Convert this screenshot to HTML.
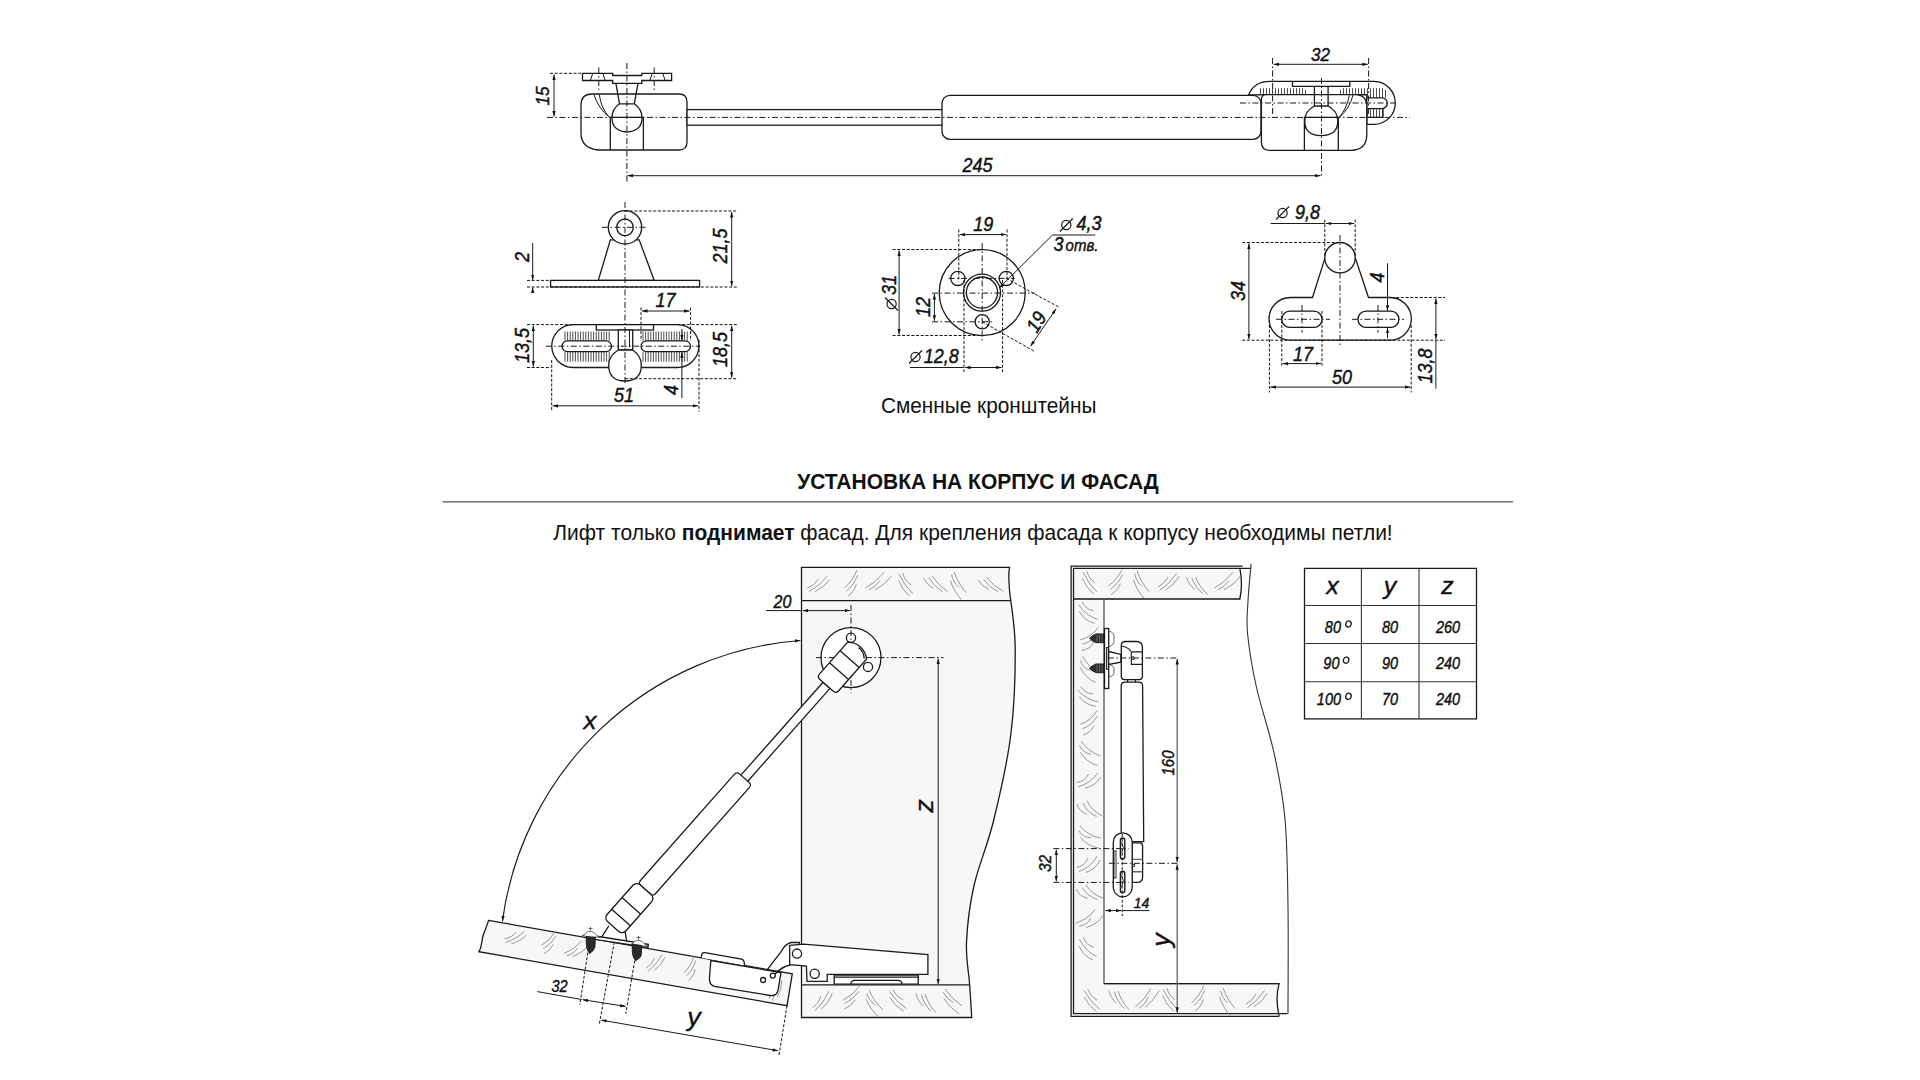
<!DOCTYPE html>
<html><head><meta charset="utf-8"><title>Газовый лифт</title>
<style>
html,body{margin:0;padding:0;background:#fff;width:1920px;height:1080px;overflow:hidden}
svg{display:block;position:absolute;left:0;top:0}
.o{fill:none;stroke:#1a1a1a;stroke-width:1.3}
.w{fill:#fff;stroke:#1a1a1a;stroke-width:1.3}
.g{fill:#f7f7f7;stroke:#1a1a1a;stroke-width:1.3}
.t{fill:none;stroke:#1a1a1a;stroke-width:1}
.d{fill:none;stroke:#151515;stroke-width:1;stroke-dasharray:3 1.7}
.dd{fill:none;stroke:#1a1a1a;stroke-width:1;stroke-dasharray:6 2.5 1.5 2.5}
.gr{fill:none;stroke:#8c8c8c;stroke-width:0.9}
.rb{fill:none;stroke:#3a3a3a;stroke-width:0.9}
text{font-family:"Liberation Sans",sans-serif;fill:#111}
.it{font-style:italic;stroke:#111;stroke-width:0.4}
</style></head><body>
<svg width="1920" height="1080" viewBox="0 0 1920 1080">
<defs>
<marker id="ar" viewBox="0 0 10 6" refX="10" refY="3" markerWidth="5.5" markerHeight="4.6" markerUnits="userSpaceOnUse" orient="auto-start-reverse"><path d="M0,0 L10,3 L0,6 Z" fill="#111"/></marker>
</defs>
<g id="top">
<!-- left mount plate + stem -->
<path class="w" d="M582.5,73.3 H612.7 V75.5 H641.8 V73.3 H671.6 V80.5 H641.8 V83.3 H612.7 V80.5 H582.5 Z"/>
<path class="t" d="M590.5,80 L592.5,74 M603,74 L605,80 M650,80 L652,74 M663,74 L665,80"/>
<!-- left block -->
<path class="w" d="M592,94 H679 Q687,94 687,102 V142 Q687,150 679,150 H598 Q581,148 581,133 V105 Q581,94 592,94 Z"/>
<path class="t" d="M593.9,94.3 Q598,108 609.4,117.4 M599.3,94.7 Q601,108 609.4,117.4"/>
<path class="o" d="M615.9,83.3 L619.5,103.8 M638,83.3 L634.3,103.8"/>
<path class="w" d="M619.5,103.8 H634.3 Q642,109 642,118 Q642,131 627,132 Q612,131 612,118 Q612,109 619.5,103.8 Z"/>
<path class="o" d="M610.3,150 V117.4 H643.4 V150"/>
<!-- rod -->
<rect class="w" x="687" y="109.6" width="256" height="15.6"/>
<!-- cylinder -->
<rect class="w" x="942" y="95.3" width="319" height="44.1" rx="8"/>
<!-- right bracket -->
<path class="w" d="M1248.7,94.8 Q1254,81.4 1270,81.4 H1373.8 A21.5,21.5 0 0 1 1373.8,124.4 H1366.8 V94.6 Z"/>
<path class="o" d="M1292.5,81.4 V86.4 H1349.8 V81.4"/>
<path class="w" d="M1366.8,97.9 H1382 A5.35,5.35 0 0 1 1382,108.6 H1366.8 Z"/>
<path class="rb" transform="translate(0.5,0)" d="M1260,88.2 V94.6 M1263,88.2 V94.6 M1266,88.2 V94.6 M1269,88.2 V94.6 M1272,88.2 V94.6 M1275,88.2 V94.6 M1278,88.2 V94.6 M1281,88.2 V94.6 M1284,88.2 V94.6 M1287,88.2 V94.6 M1290,88.2 V94.6 M1293,88.2 V94.6 M1296,88.2 V94.6 M1299,88.2 V94.6 M1302,88.2 V94.6 M1305,90 V94.6 M1340,90 V94.6 M1343,88.2 V94.6 M1346,88.2 V94.6 M1349,88.2 V94.6 M1352,88.2 V94.6 M1355,88.2 V94.6 M1358,88.2 V94.6 M1361,88.2 V94.6 M1364,88.2 V94.6 M1367,88.2 V97.9 M1370,88.2 V97.9 M1373,88.2 V97.9 M1376,88.2 V97.9 M1379,88.2 V97.9 M1382,88.2 V97.9 M1385,90 V97.9 M1367,108.6 V117.4 M1370,108.6 V117.4 M1373,108.6 V117.4 M1376,108.6 V117.4 M1379,108.6 V117.4 M1382,108.6 V117.4"/>
<path class="o" d="M1366.8,117.4 H1383 V108.6"/>
<!-- right block -->
<path class="w" d="M1266.4,94.6 H1354.8 Q1366.8,94.6 1366.8,106.6 V134.3 Q1366.8,150.3 1350.8,150.3 H1269.4 Q1261.4,150.3 1261.4,142.3 V99.6 Q1261.4,94.6 1266.4,94.6 Z"/>
<path class="t" d="M1353,94.8 Q1350,108 1339.3,117.4 M1349.5,94.8 Q1347,108 1339.3,117.4"/>
<path class="o" d="M1314.4,86.4 V106 M1328.1,86.4 V106"/>
<path class="w" d="M1314.4,106 H1328.1 Q1337.8,111 1337.8,121 Q1337.8,135.6 1321.2,135.6 Q1304.7,135.6 1304.7,121 Q1304.7,111 1314.4,106 Z"/>
<path class="o" d="M1304.4,150.3 V117.4 H1338.3 V150.3"/>
<!-- center lines -->
<path class="dd" d="M547,117.4 H1410"/>
<path class="dd" d="M1240,103 H1395"/>
<path class="dd" d="M626.9,63 V182"/>
<path class="dd" d="M598.8,67.5 V90.2 M654.2,67.5 V90.2"/>
<path class="dd" d="M1321.5,78 V178"/>
<path class="dd" d="M1272.6,58 V115.2 M1368.6,58 V115.2"/>
<path class="d" d="M550,73.3 H582"/>
<!-- dims -->
<path class="t" d="M554,74.5 V116.5" marker-start="url(#ar)" marker-end="url(#ar)"/>
<path class="t" d="M627.5,175.7 H1320.5" marker-start="url(#ar)" marker-end="url(#ar)"/>
<path class="t" d="M1273.5,64.3 H1367.8" marker-start="url(#ar)" marker-end="url(#ar)"/>
<text class="it" font-size="17" transform="translate(549,96) rotate(-90) scale(1,1.1)" text-anchor="middle">15</text>
<text class="it" font-size="18"   text-anchor="middle" transform="translate(977.5,172.3) scale(1,1.1)">245</text>
<text class="it" font-size="17"   text-anchor="middle" transform="translate(1320.5,60.7) scale(1,1.1)">32</text>
</g>

<g id="midleft">
<!-- top view bracket -->
<path class="w" d="M610.4,239.8 L598.3,280.4 H654.2 L639.2,239.8 Z"/>
<circle class="w" cx="625" cy="227.3" r="16.7"/>
<circle class="o" cx="625" cy="227.3" r="8.3"/>
<rect class="w" x="550.6" y="280.4" width="149" height="6.6"/>
<path class="dd" d="M602,227.3 H648"/>
<path class="d" d="M625,211 H737.5 M527,287 H737.5 M527,280.4 H550"/>
<path class="t" d="M731.7,212 V286" marker-start="url(#ar)" marker-end="url(#ar)"/>
<path class="t" d="M532.7,243 V280" marker-end="url(#ar)"/>
<path class="t" d="M532.7,291 V287.5" marker-end="url(#ar)"/>
<text class="it" font-size="18" transform="translate(727,246) rotate(-90) scale(1,1.1)" text-anchor="middle">21,5</text>
<text class="it" font-size="18" transform="translate(529,257) rotate(-90) scale(1,1.1)" text-anchor="middle">2</text>
<!-- bottom view -->
<path class="w" d="M573.2,324.6 H677.5 A21.45,21.45 0 0 1 677.5,367.5 H573.2 A21.45,21.45 0 0 1 573.2,324.6 Z"/>
<path class="rb" d="M565.0,331.5 V340.8 M567.6,331.5 V340.8 M570.2,331.5 V340.8 M572.8,331.5 V340.8 M575.4,331.5 V340.8 M578.0,331.5 V340.8 M580.6,331.5 V340.8 M583.2,331.5 V340.8 M585.8,331.5 V340.8 M588.4,331.5 V340.8 M591.0,331.5 V340.8 M593.6,331.5 V340.8 M596.2,331.5 V340.8 M598.8,331.5 V340.8 M601.4,331.5 V340.8 M604.0,331.5 V340.8 M606.6,331.5 V340.8 M609.2,331.5 V340.8 M565.0,351.7 V361.7 M567.6,351.7 V361.7 M570.2,351.7 V361.7 M572.8,351.7 V361.7 M575.4,351.7 V361.7 M578.0,351.7 V361.7 M580.6,351.7 V361.7 M583.2,351.7 V361.7 M585.8,351.7 V361.7 M588.4,351.7 V361.7 M591.0,351.7 V361.7 M593.6,351.7 V361.7 M596.2,351.7 V361.7 M598.8,351.7 V361.7 M601.4,351.7 V361.7 M604.0,351.7 V361.7 M606.6,351.7 V361.7 M609.2,351.7 V361.7 M643.0,331.5 V340.8 M645.6,331.5 V340.8 M648.2,331.5 V340.8 M650.8,331.5 V340.8 M653.4,331.5 V340.8 M656.0,331.5 V340.8 M658.6,331.5 V340.8 M661.2,331.5 V340.8 M663.8,331.5 V340.8 M666.4,331.5 V340.8 M669.0,331.5 V340.8 M671.6,331.5 V340.8 M674.2,331.5 V340.8 M676.8,331.5 V340.8 M679.4,331.5 V340.8 M682.0,331.5 V340.8 M684.6,331.5 V340.8 M687.2,331.5 V340.8 M643.0,351.7 V361.7 M645.6,351.7 V361.7 M648.2,351.7 V361.7 M650.8,351.7 V361.7 M653.4,351.7 V361.7 M656.0,351.7 V361.7 M658.6,351.7 V361.7 M661.2,351.7 V361.7 M663.8,351.7 V361.7 M666.4,351.7 V361.7 M669.0,351.7 V361.7 M671.6,351.7 V361.7 M674.2,351.7 V361.7 M676.8,351.7 V361.7 M679.4,351.7 V361.7 M682.0,351.7 V361.7 M684.6,351.7 V361.7 M687.2,351.7 V361.7"/>
<path class="w" d="M567.5,340.8 H606 A5.45,5.45 0 0 1 606,351.7 H567.5 A5.45,5.45 0 0 1 567.5,340.8 Z"/>
<path class="w" d="M646.5,340.8 H685 A5.45,5.45 0 0 1 685,351.7 H646.5 A5.45,5.45 0 0 1 646.5,340.8 Z"/>
<rect class="w" x="596.3" y="324.6" width="57.2" height="5.4"/>
<rect class="w" x="618.3" y="330" width="14.4" height="20"/>
<path class="t" d="M629.5,330 V347"/>
<path class="w" d="M618.3,350 H632.7 Q641.3,356 641.3,365 Q641.3,381 625,381 Q608.7,381 608.7,365 Q608.7,356 618.3,350 Z"/>
<path class="dd" d="M545.8,346.2 H700"/>
<path class="d" d="M527,324.6 H737.5 M527,367.5 H551 M625,378.7 H737.5"/>
<path class="d" d="M641,307.5 V340.8 M690.6,307.5 V340.8"/>
<path class="d" d="M551.7,360 V411.7 M699,340 V411.7"/>
<path class="t" d="M533.3,325.6 V366.5" marker-start="url(#ar)" marker-end="url(#ar)"/>
<path class="t" d="M731.7,325.6 V377.7" marker-start="url(#ar)" marker-end="url(#ar)"/>
<path class="t" d="M642,311 H689.6" marker-start="url(#ar)" marker-end="url(#ar)"/>
<path class="t" d="M552.7,405.8 H698" marker-start="url(#ar)" marker-end="url(#ar)"/>
<path class="t" d="M681.9,329 V340.3" marker-end="url(#ar)"/>
<path class="t" d="M681.9,398 V352.2" marker-end="url(#ar)"/>
<text class="it" font-size="18" transform="translate(529,345.5) rotate(-90) scale(1,1.1)" text-anchor="middle">13,5</text>
<text class="it" font-size="18" transform="translate(727,349.5) rotate(-90) scale(1,1.1)" text-anchor="middle">18,5</text>
<text class="it" font-size="18" transform="translate(678,390) rotate(-90) scale(1,1.1)" text-anchor="middle">4</text>
<text class="it" font-size="18"   text-anchor="middle" transform="translate(665.6,306.5) scale(1,1.1)">17</text>
<text class="it" font-size="18"   text-anchor="middle" transform="translate(624,401.5) scale(1,1.1)">51</text>
<path class="dd" d="M625,202 V385"/>
</g>
<g id="midcenter">
<circle class="w" cx="982.2" cy="292.6" r="43"/>
<circle class="o" cx="982" cy="292.6" r="18.5"/>
<circle class="o" cx="982" cy="292.6" r="15.6"/>
<circle class="o" cx="957.8" cy="278.4" r="7.1"/>
<circle class="o" cx="1006.3" cy="278.4" r="7.1"/>
<circle class="o" cx="982.2" cy="321.8" r="7.1"/>
<path class="dd" d="M982.2,243 V342"/>
<path class="dd" d="M932,293.1 H1035 M932,321.8 H994.5 M948.6,278.4 H1014.8"/>
<path class="d" d="M892.6,249.5 H982 M892.6,335.5 H982"/>
<path class="d" d="M958.8,229.5 V281.5 M1007,229.5 V281.5 M964,280 V372 M1002.6,280 V372"/>
<path class="d" d="M1006.3,278.4 L1058.6,307 M982.2,321.8 L1035.2,351.8"/>
<path class="t" d="M959.8,234.6 H1006" marker-start="url(#ar)" marker-end="url(#ar)"/>
<path class="t" d="M899.1,250.5 V334.5" marker-start="url(#ar)" marker-end="url(#ar)"/>
<path class="t" d="M934.4,294 V320.8" marker-start="url(#ar)" marker-end="url(#ar)"/>
<path class="t" d="M910,367.5 H964" />
<path class="t" d="M965,367.5 H1001.6" marker-start="url(#ar)" marker-end="url(#ar)"/>
<path class="t" d="M1056.1,308.8 L1030.5,346.2" marker-start="url(#ar)" marker-end="url(#ar)"/>
<path class="t" d="M1095.3,235 H1052.5 L999.2,288" marker-end="url(#ar)"/>
<text class="it" font-size="18"   text-anchor="middle" transform="translate(983.3,230.5) scale(1,1.1)">19</text>
<text class="it" font-size="18" transform="translate(896,285) rotate(-90) scale(1,1.1)" text-anchor="middle">31</text>
<circle class="o" cx="891.6" cy="304" r="4.6" style="stroke-width:1.2"/><path class="o" d="M885,297.5 L898,310.5" style="stroke-width:1.2"/>
<text class="it" font-size="18" transform="translate(930,307) rotate(-90) scale(1,1.1)" text-anchor="middle">12</text>
<text class="it" font-size="18" transform="translate(1042,325.5) rotate(-58) scale(1,1.1)" text-anchor="middle">19</text>
<text class="it" font-size="18"   text-anchor="end" transform="translate(958.8,362.5) scale(1,1.1)">12,8</text>
<circle class="o" cx="915.5" cy="357" r="4.6" style="stroke-width:1.2"/><path class="o" d="M909,363.5 L922,350.5" style="stroke-width:1.2"/>
<text class="it" font-size="18"   text-anchor="end" transform="translate(1101.4,229.5) scale(1,1.1)">4,3</text>
<circle class="o" cx="1066.3" cy="225" r="4.6" style="stroke-width:1.2"/><path class="o" d="M1059.8,231.5 L1072.8,218.5" style="stroke-width:1.2"/>
<text class="it" font-size="18"   transform="translate(1053.6,250.5) scale(1,1.1)">3<tspan font-size="15" dx="2">отв.</tspan></text>
<text font-size="20.8" transform="translate(881,412.7) scale(1,1.07)">Сменные кронштейны</text>
</g>
<g id="midright">
<path class="w" d="M1324.8,258.6 L1312.5,297.5 H1290.4 A21.35,21.35 0 0 0 1290.4,340.2 H1390 A21.35,21.35 0 0 0 1390,297.5 H1368.5 L1355.2,257.6 Z"/>
<circle class="w" cx="1340" cy="257.7" r="15.2"/>
<path class="w" d="M1289.8,311.2 H1314 A8.05,8.05 0 0 1 1314,327.3 H1289.8 A8.05,8.05 0 0 1 1289.8,311.2 Z"/>
<path class="w" d="M1366,311.2 H1390.9 A8.05,8.05 0 0 1 1390.9,327.3 H1366 A8.05,8.05 0 0 1 1366,311.2 Z"/>
<path class="dd" d="M1340,235 V347 M1276,319.3 H1330 M1352,319.3 H1404 M1302,305 V332.6 M1378,305 V332.6"/>
<path class="d" d="M1242.3,242.5 H1340 M1242.3,340.2 H1445 M1368,297.5 H1445"/>
<path class="d" d="M1324.8,219.7 V255.7 M1355.2,219.7 V255.7"/>
<path class="d" d="M1281.8,311 V367.4 M1322,311 V367.4 M1269.4,325 V392.4 M1411.2,325 V392.4"/>
<path class="t" d="M1270.7,223.5 H1324.8"/>
<path class="t" d="M1325.8,223.5 H1354.2" marker-start="url(#ar)" marker-end="url(#ar)"/>
<path class="t" d="M1248.9,243.5 V339.2" marker-start="url(#ar)" marker-end="url(#ar)"/>
<path class="t" d="M1387.5,263.3 V310.7" marker-end="url(#ar)"/>
<path class="t" d="M1387.5,338.3 V327.8" marker-end="url(#ar)"/>
<path class="t" d="M1435.9,298.5 V339.2" marker-start="url(#ar)" marker-end="url(#ar)"/>
<path class="t" d="M1435.9,340.2 V388.6"/>
<path class="t" d="M1282.8,363.6 H1321" marker-start="url(#ar)" marker-end="url(#ar)"/>
<path class="t" d="M1270.4,387.1 H1410.2" marker-start="url(#ar)" marker-end="url(#ar)"/>
<text class="it" font-size="18"   text-anchor="end" transform="translate(1320,218.7) scale(1,1.1)">9,8</text>
<circle class="o" cx="1282.6" cy="213" r="4.6" style="stroke-width:1.2"/><path class="o" d="M1276.1,219.5 L1289.1,206.5" style="stroke-width:1.2"/>
<text class="it" font-size="18" transform="translate(1245,291) rotate(-90) scale(1,1.1)" text-anchor="middle">34</text>
<text class="it" font-size="18" transform="translate(1384,277.6) rotate(-90) scale(1,1.1)" text-anchor="middle">4</text>
<text class="it" font-size="18" transform="translate(1432,366) rotate(-90) scale(1,1.1)" text-anchor="middle">13,8</text>
<text class="it" font-size="18"   text-anchor="middle" transform="translate(1303,360.5) scale(1,1.1)">17</text>
<text class="it" font-size="18"   text-anchor="middle" transform="translate(1342,383.5) scale(1,1.1)">50</text>
</g>

<g id="title">
<text font-size="21" font-weight="bold" transform="translate(978,488.6) scale(1,1.08)" text-anchor="middle">УСТАНОВКА НА КОРПУС И ФАСАД</text>
<rect x="442.6" y="501" width="1070.4" height="1.6" fill="#7a7a7a"/>
<text font-size="21" transform="translate(973,539.5) scale(1,1.07)" text-anchor="middle">Лифт только <tspan font-weight="bold">поднимает</tspan> фасад. Для крепления фасада к корпусу необходимы петли!</text>
</g>

<g id="cab1">
<path class="g" d="M801.5,567.4 H1009.6 C1008.8,570.4 1008.4,576.6 1009.5,590 C1010.6,603.4 1015,623 1015.2,647 C1015.4,671 1014.5,705 1010.9,734 C1007.3,763 999.7,795.7 993.5,821 C987.3,846.3 978.4,865.7 973.9,886 C969.4,906.3 967.2,926.3 966.5,942.6 C965.8,958.9 968.7,971.5 969.6,984 C970.5,996.5 971.4,1011.9 971.7,1017.5 H801.5 Z"/>
<path class="o" d="M801.5,600.6 H1010.5 M801.5,984.9 H969.6"/>
<path class="gr" d="M808.8,591.7 Q819.6,585.9 827.2,576.3 M815.1,591.7 Q824,587.4 829.8,579.4 M807.4,588.2 Q814.5,585.5 818.4,578.9 M846.9,590.9 Q854.4,584.5 857.9,575.2 M848.1,596.1 Q854.3,591.7 856.3,584.3 M844.6,587.9 Q852.9,580.4 857,570.2 M868.7,589.9 Q875.8,587.2 879.8,580.7 M875,589.9 Q884.9,584.9 891.5,576 M865.5,588 Q876.3,582.2 883.9,572.5 M899.1,574.2 Q904,585.4 912.9,593.8 M898.6,580.4 Q902.1,589.7 909.6,596.1 M902.8,573.1 Q904.8,580.4 911,584.9 M928.9,577.9 Q933.9,586.5 942.5,591.5 M923.5,578.2 Q926.9,585.1 933.7,588.4 M932.3,576.2 Q938.2,585.6 947.6,591.5 M951.6,574.6 Q953,582.1 958.8,587.1 M950.5,580.8 Q953.8,591.4 961.3,599.5 M954.1,571.8 Q958,583.5 966.1,592.6 M983.5,579.4 Q989.2,587.5 998.2,591.7 M978.2,580.1 Q982.1,586.7 989.2,589.4 M986.7,577.4 Q993.4,586.2 1003.3,591.3 M815.1,1010.8 Q824,1002.4 828.9,991.2 M821.1,1009.2 Q828.7,1002.8 832.2,993.5 M812.9,1007.8 Q819,1003.3 821.1,996 M844.5,1003.6 Q853.4,999.4 859.2,991.3 M844.3,1009 Q851.4,1006.3 855.3,999.8 M843.1,1000.1 Q853,995.1 859.6,986.2 M866.8,993.2 Q868.9,1000.5 875.1,1004.9 M866.3,999.4 Q870.4,1009.7 878.7,1017.1 M869.1,990.1 Q873.9,1001.4 882.8,1009.8 M889.5,991.5 Q896.2,1001.8 906.5,1008.5 M890.1,997.7 Q895.1,1006.3 903.7,1011.3 M892.9,989.8 Q896.2,996.7 903.1,1000 M921.4,994.8 Q924,1004.3 931,1011.4 M916.1,993.6 Q917.6,1001.1 923.3,1006.1 M925.1,994 Q928.4,1004.6 935.9,1012.7 M943.4,992.4 Q946.7,999.2 953.5,1002.5 M943.9,998.6 Q949.8,1008 959.2,1013.9 M945.1,989 Q951.8,999.2 962,1005.9"/>
<circle class="w" cx="851" cy="657.6" r="30"/>
<circle class="o" cx="851" cy="637.7" r="4.6"/>
<circle class="o" cx="868" cy="666.9" r="4.6"/>
<path class="dd" d="M851,605 V693 M816,657.6 H943.6"/>
<path class="t" d="M765.9,610.6 H801.5"/>
<path class="t" d="M802.5,610.6 H850" marker-start="url(#ar)" marker-end="url(#ar)"/>
<text class="it" font-size="16"   text-anchor="middle" transform="translate(782.5,607.6) scale(1,1.1)">20</text>
<path class="t" d="M938.2,658.6 V984" marker-start="url(#ar)" marker-end="url(#ar)"/>
<text class="it v" font-size="27" transform="translate(932.5,806) rotate(-90) scale(1,0.93)" text-anchor="middle">z</text>
<path class="t" d="M800.3,640.5 A325,325 0 0 0 502.4,921.3" marker-start="url(#ar)" marker-end="url(#ar)" style="stroke-width:1.15"/>
<text class="it v" font-size="26"   text-anchor="middle" transform="translate(590,728.7) scale(1,0.93)">x</text>
<path class="g" d="M488.6,920.4 L792.3,973.9 L787,1005.7 L478.9,951.7 C482,947 481.5,941 483,936 C484.5,931 487,926 488.6,920.4 Z"/>
<path class="gr" d="M505.5,942.5 Q516.2,939.2 524.5,931.5 M511.3,943.8 Q520.2,941.5 526.5,935 M504.6,938.8 Q511.6,937.7 516.1,932.2 M543.3,948.7 Q551.3,944.2 555.8,936.2 M543.8,953.8 Q550.3,950.9 553.2,944.5 M541.6,945.3 Q550.3,940.1 555.6,931.3 M566.9,955.7 Q573.7,953.9 577.7,948.1 M572.8,956.4 Q582.3,952.8 589,945.1 M563.9,953.4 Q574.4,949.1 581.9,940.7 M647.9,971.4 Q656.9,964.6 662.1,954.6 M653.8,970.6 Q661.4,965.5 665.1,957.1 M645.9,968.3 Q652,964.8 654.4,958.2 M686.7,975.7 Q693.3,969.3 695.5,960.5 M688.5,980.6 Q694,976.1 695.1,969.1 M684.1,973 Q691.2,965.6 694,955.8 M727.4,984.4 Q734.1,982 737.5,975.9 M733.4,984.6 Q742.5,980.2 748.5,971.9 M724.3,982.3 Q734.3,977.2 741.1,968.2 M772.2,1000.6 Q777.4,990.6 777.8,979.4 M777.2,997.4 Q781.8,989.6 781.7,980.4 M769,998.6 Q773.1,992.9 772.4,985.9"/>
<path class="w" d="M701,957.8 L702,953.8 Q703,952.3 705,952.7 L741.5,959.2 Q743.5,959.8 744,961.5 L744.6,965.4"/>
<path class="w" d="M710.8,960.6 L709.5,978 Q709,985 714.4,986.3 L770.5,995.5 Q777,996 778.1,989.8 L781,972.5 Z"/>
<circle class="o" cx="763.1" cy="980" r="2.5"/><circle class="o" cx="772.8" cy="975.6" r="2.5"/>
<path class="o" d="M767.5,969.4 L781.7,950.8 Q785,944 791.1,942.5 H799.4 V944.6"/>
<path class="w" d="M789.7,945.3 L803.6,944.2 L927.9,954.6 V974.4 H827.2 V981.4 H807 L806.4,966.1 L789.7,964.7 Z"/>
<circle class="o" cx="797" cy="953.6" r="4.6"/><circle class="o" cx="814.7" cy="973.75" r="4.6"/>
<path class="w" d="M834.2,975.1 H918.2 V984.2 H834.2 Z"/>
<path class="o" d="M834.2,977.2 H918.2 M850.8,984.2 Q851,980.3 855,980.3 H898 Q902,980.3 902,984.2"/>
<path class="o" d="M775,974 Q782,966.5 790.4,965"/>
<path class="w" d="M595,936 L648.3,944.3 L648,947.5 L594.5,939.3 Z"/>
<path class="o" d="M608.75,925.8 L601.7,937.2 M625,930.4 L626.7,941.6"/>
<path d="M582,935.5 L584,935 Q590.5,926.5 598,936.5 L600,937 Q590.5,938 582,935.5 Z" fill="#fff" stroke="#444" stroke-width="0.8"/>
<path d="M590.5,927 V930.5 M588.5,928.5 H592.5" stroke="#444" stroke-width="0.8"/>
<path d="M586,936.6 L595.5,937.4 L594.9,947.4 Q593.5,951.5 589.5,953.5 Q587,950.5 586.5,946.6 Z" fill="#2a2a2a" stroke="#111" stroke-width="0.8"/>
<path d="M630,944.5 L632,944 Q638.5,935.5 646,945.5 L648,946 Q638.5,947 630,944.5 Z" fill="#fff" stroke="#444" stroke-width="0.8"/>
<path d="M638.5,936 V939.5 M636.5,937.5 H640.5" stroke="#444" stroke-width="0.8"/>
<path d="M632,944 L641.8,945.5 L641.2,955.5 Q639.8,958.8 635.7,960.8 Q633,957.8 632.5,954 Z" fill="#2a2a2a" stroke="#111" stroke-width="0.8"/>
<g transform="translate(851,657.6) rotate(131.5)">
<rect class="w" x="37" y="-4.6" width="125" height="9.2"/>
<rect class="w" x="161" y="-10" width="149" height="20" rx="3.5"/>
<rect class="w" x="310" y="-12.5" width="49" height="25" rx="5"/>
<path class="o" d="M331.5,-12.5 V12.5 M347,-12.5 V12.5"/>
<path class="w" d="M33,12.7 H-9 A18,18 0 0 1 -9,-12.7 H33 Q37,-12.7 37,-8.7 V8.7 Q37,12.7 33,12.7 Z"/>
<path class="o" d="M2,-12.7 V12.7 M18,-12.7 V12.7 M-8,-10.5 Q-13,-6 -12.5,1"/>
</g>
<path class="d" d="M587.8,952.6 L579.8,1004.8 M634.7,960.6 L625.8,1013.7 M614.3,942 L599.3,1024.3 M787,1005.7 L779,1055.3"/>
<path class="t" d="M537.3,991.6 L581.6,999.5"/>
<path class="t" d="M582.6,999.7 L625.7,1006.4" marker-start="url(#ar)" marker-end="url(#ar)"/>
<path class="t" d="M601.2,1020.1 L778,1050.7" marker-start="url(#ar)" marker-end="url(#ar)"/>
<text class="it" font-size="14.5"   text-anchor="middle" transform="translate(559.5,991.6) scale(1,1.1)">32</text>
<text class="it v" font-size="27"   text-anchor="middle" transform="translate(694,1026) scale(1,0.93)">y</text>
</g>
<g id="cab2">
<path d="M1073.5,568.4 H1240 Q1243,584 1239.9,599 H1104 V983.6 H1279.1 Q1277,998 1279.1,1013.7 H1073.5 Z" fill="#f7f7f7" stroke="none"/>
<path class="o" d="M1242.5,566.1 H1071.1 V1016.3 H1279.1"/>
<path class="o" d="M1250.6,568.4 H1073.5 V1013.7 H1287.6"/>
<path class="o" d="M1239.9,568.4 Q1243,584 1239.9,599 H1073.5"/>
<path class="o" d="M1279.1,983.6 H1104 V599" style="stroke:#555"/>
<path class="o" d="M1104,983.6 H1279.1 Q1275,998 1279.1,1016.3"/>
<path class="o" d="M1251.1,563.8 C1250.6,570 1248.6,589.3 1248,601 C1247.4,612.7 1246.2,619.7 1247.6,634 C1249,648.3 1252,667.2 1256.4,687 C1260.8,706.8 1269.2,730.9 1274,752.9 C1278.8,774.9 1282.7,793.2 1285,818.9 C1287.3,844.5 1287.5,874.3 1288,906.8 C1288.5,939.3 1288,995.9 1288,1013.7" style="stroke-width:1.1;stroke:#333"/>
<path class="gr" d="M1083.1,572.2 Q1088,583.4 1096.9,591.8 M1082.6,578.4 Q1086.1,587.7 1093.6,594.1 M1086.8,571.1 Q1088.8,578.4 1095,582.9 M1110.4,589.5 Q1118.5,583.8 1122.7,574.8 M1111.1,594.8 Q1117.7,590.9 1120.4,583.8 M1108.4,586.3 Q1117.2,579.6 1122.3,569.7 M1134.6,573.6 Q1136,581.1 1141.8,586.1 M1133.5,579.8 Q1136.8,590.4 1144.3,598.5 M1137.1,570.8 Q1141,582.5 1149.1,591.6 M1159.5,590.5 Q1169.8,583.8 1176.5,573.5 M1165.7,589.9 Q1174.3,584.9 1179.3,576.3 M1157.8,587.1 Q1164.7,583.8 1168,576.9 M1191.9,578.1 Q1195.3,587.4 1202.9,593.8 M1186.5,577.4 Q1188.6,584.8 1194.8,589.2 M1195.5,577 Q1199.7,587.3 1207.9,594.7 M1217.7,589.9 Q1224.8,587.2 1228.8,580.7 M1224,589.9 Q1233.9,584.9 1240.5,576 M1214.5,588 Q1225.3,582.2 1232.9,572.5 M1084.3,990.8 Q1090.1,1001.6 1099.7,1009.2 M1084.3,997.1 Q1088.6,1006 1096.6,1011.8 M1087.8,989.4 Q1090.5,996.5 1097.1,1000.4 M1114.4,991.8 Q1117,1001.3 1124,1008.4 M1109.1,990.6 Q1110.6,998.1 1116.3,1003.1 M1118.1,991 Q1121.4,1001.6 1128.9,1009.7 M1139.1,1008.3 Q1145.6,1004.4 1148.3,997.2 M1145.2,1007.2 Q1154.1,1000.5 1159.1,990.6 M1135.5,1006.9 Q1145.2,999.3 1151,988.5 M1163.1,989.2 Q1168,1000.4 1176.9,1008.8 M1162.6,995.4 Q1166.1,1004.7 1173.6,1011.1 M1166.8,988.1 Q1168.8,995.4 1175,999.9 M1193.9,1005.9 Q1201.4,999.5 1204.9,990.2 M1195.1,1011.1 Q1201.3,1006.7 1203.3,999.3 M1191.6,1002.9 Q1199.9,995.4 1204,985.2 M1220.6,990.6 Q1222,998.1 1227.8,1003.1 M1219.5,996.8 Q1222.8,1007.4 1230.3,1015.5 M1223.1,987.8 Q1227,999.5 1235.1,1008.6 M1247.5,1007.5 Q1257.8,1000.8 1264.5,990.5 M1253.7,1006.9 Q1262.3,1001.9 1267.3,993.3 M1245.8,1004.1 Q1252.7,1000.8 1256,993.9 M1078.5,604.6 Q1085.5,615.2 1097.5,619.4 M1079.2,611.5 Q1084.4,620.6 1094.4,623.3 M1082.3,601.8 Q1085.5,609.4 1093.6,610.7 M1082.1,644.1 Q1092.3,641.9 1097.8,633.1 M1082,650.3 Q1090.2,649.4 1093.8,642 M1080.5,639.8 Q1091.6,636.8 1098.2,627.4 M1080.4,660.4 Q1082.6,668.3 1090.5,670.5 M1080.2,667.3 Q1085,677.8 1095.5,682.6 M1082.7,656.3 Q1088.4,667.6 1099.7,673.3 M1077.6,690 Q1086,699.5 1098.4,702 M1079.3,696.7 Q1085.6,705 1095.9,706.3 M1080.9,686.7 Q1085.1,693.8 1093.4,693.9 M1082.5,728.6 Q1092.4,725.5 1097.2,716.3 M1082.9,734.8 Q1091,733.2 1094,725.5 M1080.5,724.4 Q1091.4,720.5 1097.1,710.5 M1079.5,745.4 Q1082.7,752.9 1090.8,754.2 M1080.2,752.2 Q1086.2,762 1097.2,765.5 M1081.3,741.1 Q1088.3,751.6 1100.2,755.8 M1078.2,786.9 Q1090.3,783.3 1097.8,773.1 M1085,788.2 Q1095.1,786 1100.7,777.2 M1076.6,782.5 Q1084.8,781.7 1088.4,774.2 M1082.9,802.9 Q1086.9,812.5 1096.5,816.5 M1076.8,803.9 Q1079.1,811.8 1087,814.1 M1086.9,800.6 Q1091.7,811 1102.2,815.8 M1078.6,830.6 Q1082.9,837.7 1091.1,837.8 M1080.3,837.3 Q1087.7,846.2 1099,848.1 M1079.9,826.1 Q1088.2,835.6 1100.6,838.1 M1078.8,871.7 Q1090.6,867.1 1097.2,856.3 M1085.7,872.5 Q1095.6,869.4 1100.4,860.1 M1076.8,867.5 Q1084.9,865.9 1087.9,858.2 M1082.3,887.6 Q1087.4,896.6 1097.5,899.4 M1076.4,889.3 Q1079.6,896.9 1087.8,898.2 M1086,884.8 Q1092.1,894.6 1103.1,898.1 M1079.2,926.2 Q1087.3,925.3 1090.9,917.9 M1086,927.5 Q1097.1,924.6 1103.6,915.1 M1075.6,923.2 Q1087.7,919.6 1095.2,909.4 M1079.5,939.5 Q1085.2,950.8 1096.5,956.5 M1079.4,946.4 Q1083.3,956.1 1092.9,960 M1083.5,937.2 Q1085.8,945.1 1093.7,947.4"/>
<rect class="t" x="1304.5" y="568.4" width="172" height="150.5" style="stroke-width:1.3"/>
<path class="t" d="M1361.4,568.4 V718.9 M1419,568.4 V718.9 M1304.5,605.5 H1476.5 M1304.5,643.5 H1476.5 M1304.5,681.7 H1476.5" style="stroke-width:1.1;stroke:#333"/>
<text class="it v" font-size="25"   text-anchor="middle" transform="translate(1332.5,594) scale(1,0.93)">x</text>
<text class="it v" font-size="25"   text-anchor="middle" transform="translate(1390,594) scale(1,0.93)">y</text>
<text class="it v" font-size="25"   text-anchor="middle" transform="translate(1447.5,594) scale(1,0.93)">z</text>
<text class="it" font-size="14.5"   text-anchor="end" transform="translate(1341,632.5) scale(1,1.1)">80</text>
<ellipse class="o" cx="1348.5" cy="624.0" rx="2.7" ry="3.1" transform="rotate(15 1348.5 624.0)" style="stroke-width:1.3"/>
<text class="it" font-size="14.5"   text-anchor="middle" transform="translate(1390,632.5) scale(1,1.1)">80</text>
<text class="it" font-size="14.5"   text-anchor="middle" transform="translate(1448,632.5) scale(1,1.1)">260</text>
<text class="it" font-size="14.5"   text-anchor="end" transform="translate(1339.5,668.7) scale(1,1.1)">90</text>
<ellipse class="o" cx="1346.1" cy="660.2" rx="2.7" ry="3.1" transform="rotate(15 1346.1 660.2)" style="stroke-width:1.3"/>
<text class="it" font-size="14.5"   text-anchor="middle" transform="translate(1390,668.7) scale(1,1.1)">90</text>
<text class="it" font-size="14.5"   text-anchor="middle" transform="translate(1448,668.7) scale(1,1.1)">240</text>
<text class="it" font-size="14.5"   text-anchor="end" transform="translate(1341,704.8) scale(1,1.1)">100</text>
<ellipse class="o" cx="1348.5" cy="696.3" rx="2.7" ry="3.1" transform="rotate(15 1348.5 696.3)" style="stroke-width:1.3"/>
<text class="it" font-size="14.5"   text-anchor="middle" transform="translate(1390,704.8) scale(1,1.1)">70</text>
<text class="it" font-size="14.5"   text-anchor="middle" transform="translate(1448,704.8) scale(1,1.1)">240</text>
<path d="M1104,633.9 H1096 Q1091.5,635.8 1089.5,638.3 Q1091.5,640.8 1096,642.7 H1104 Z" fill="#2e2e2e" stroke="#111" stroke-width="0.8"/>
<path d="M1097,634.3 V642.3 M1099.5,634.3 V642.3 M1102,634.3 V642.3" stroke="#777" stroke-width="0.7"/>
<path d="M1104,663.9 H1096 Q1091.5,665.8 1089.5,668.3 Q1091.5,670.8 1096,672.7 H1104 Z" fill="#2e2e2e" stroke="#111" stroke-width="0.8"/>
<path d="M1097,664.3 V672.3 M1099.5,664.3 V672.3 M1102,664.3 V672.3" stroke="#777" stroke-width="0.7"/>
<rect class="w" x="1104.5" y="628.5" width="4.2" height="60"/>
<rect class="o" x="1106.5" y="647.4" width="1.7" height="21.9" style="stroke-width:0.9"/>
<path class="o" d="M1108.7,630.7 Q1115.5,633 1113.9,639 Q1115,645 1108.7,646.7 M1108.7,664.4 Q1115.5,666 1113.9,671 Q1115,676 1108.7,676.7" style="stroke:#555;stroke-width:0.9"/>
<path class="w" d="M1108.7,651.5 L1120.9,654.4 V662.2 L1108.7,664.4 Z"/>
<path class="w" d="M1125.5,641.5 H1136.5 Q1142.4,641.5 1142.4,648 V676.6 Q1142.4,679.6 1139.4,679.6 H1124.3 Q1121.3,679.6 1121.3,676.6 V645.5 Q1121.3,641.5 1125.5,641.5 Z"/>
<path class="o" d="M1121.7,646.3 Q1128,647 1130.6,651.1 M1142.4,651.9 H1131.3 V664.4 H1142.4" style="stroke-width:1.1"/>
<circle class="o" cx="1133.1" cy="658.1" r="1.5" style="stroke-width:0.9"/>
<path class="o" d="M1127.6,679.6 V682.2 M1135.4,679.6 V682.2"/>
<path class="w" d="M1121.2,832.8 V686 Q1121.2,682.2 1125,682.2 H1138.8 Q1142.6,682.2 1142.6,686 L1143.7,841.7 H1132.2"/>
<path class="w" d="M1132.2,842.8 H1140 Q1142.6,842.8 1142.6,846 V877 Q1142.6,882.4 1137,882.4 H1132.2 Z"/>
<path class="o" d="M1132.2,859.4 H1142.6 M1132.2,871.7 H1142.6" style="stroke:#666;stroke-width:1.4"/>
<rect class="o" x="1132.7" y="864.4" width="2" height="2" style="stroke-width:0.8"/>
<rect class="w" x="1113.3" y="832.8" width="18.9" height="64.1" rx="9.45"/>
<rect class="o" x="1114" y="851" width="2" height="27" style="stroke-width:0.9"/>
<rect class="w" x="1120.4" y="838" width="4.4" height="21" rx="2.2" style="stroke-width:1.4"/>
<rect class="w" x="1120.4" y="871.3" width="4.4" height="21.5" rx="2.2" style="stroke-width:1.4"/>
<path class="t" d="M1121.5,842 L1123.5,848 L1121.5,853 M1121.5,875 L1123.5,881 L1121.5,887" style="stroke-width:0.8"/>
<path class="dd" d="M1107.8,658 H1179 M1053.3,848.6 H1128.9 M1053.3,882.4 H1128.9 M1108.9,863.3 H1180"/>
<path class="d" d="M1122.2,834 V916"/>
<path class="t" d="M1177.2,659 V862.3" marker-start="url(#ar)" marker-end="url(#ar)" style="stroke:#555;stroke-width:1.2"/>
<path class="t" d="M1177.2,864.3 V1012.7" marker-start="url(#ar)" marker-end="url(#ar)" style="stroke:#555;stroke-width:1.2"/>
<path class="t" d="M1056.3,849.6 V881.4" marker-start="url(#ar)" marker-end="url(#ar)"/>
<path class="t" d="M1105.4,910.6 H1121.2" marker-start="url(#ar)" marker-end="url(#ar)"/>
<path class="t" d="M1122.2,910.6 H1149.4"/>
<text class="it" font-size="15" transform="translate(1173.5,763) rotate(-90) scale(1,1.1)" text-anchor="middle">160</text>
<text class="it v" font-size="27" transform="translate(1170,940) rotate(-90) scale(1,0.93)" text-anchor="middle">y</text>
<text class="it" font-size="15" transform="translate(1050.5,863.3) rotate(-90) scale(1,1.1)" text-anchor="middle">32</text>
<text class="it" font-size="14"   text-anchor="middle" transform="translate(1141.4,908.3) scale(1,1.1)">14</text>
</g>
</svg>
</body></html>
